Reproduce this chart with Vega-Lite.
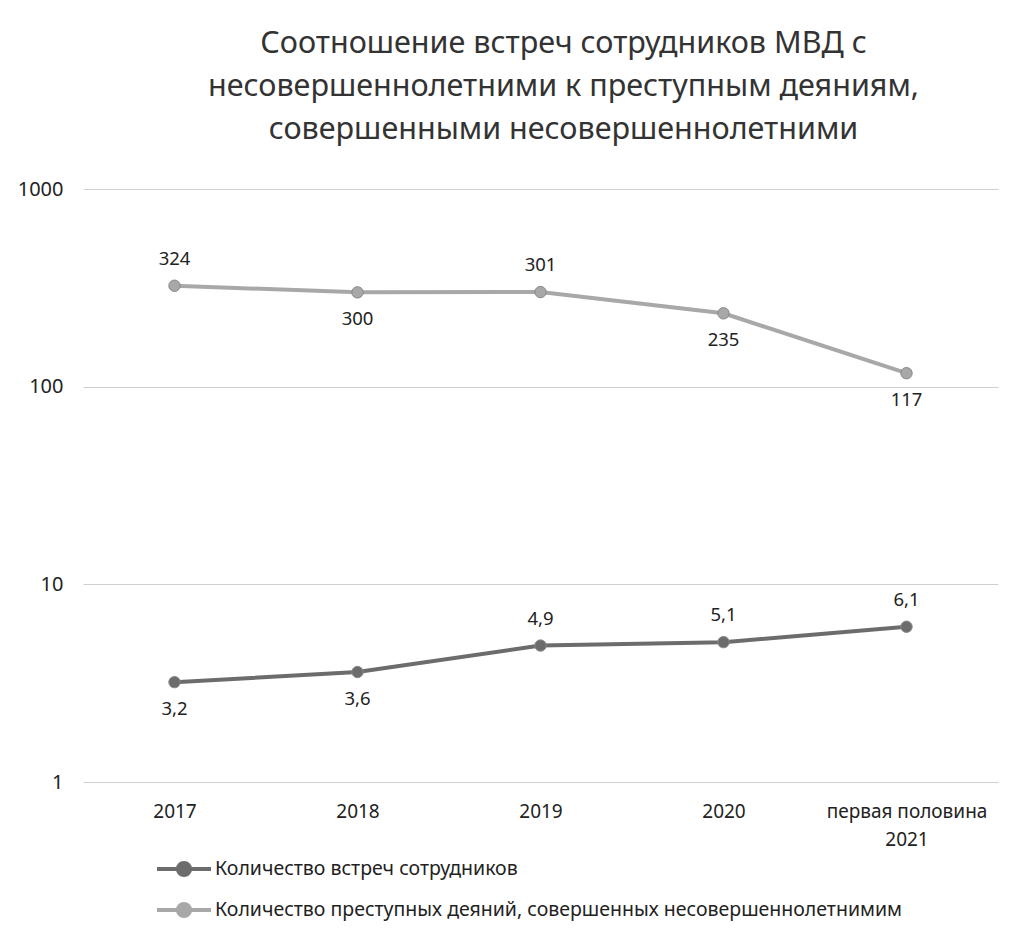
{
  "$schema": "https://vega.github.io/schema/vega-lite/v6.json",
  "width": 915,
  "height": 593,
  "autosize": {"type": "none"},
  "padding": {"left": 83, "top": 189, "right": 25, "bottom": 158},
  "background": "white",
  "config": {
    "font": "Noto Sans",
    "view": {"stroke": null}
  },
  "title": {
    "text": ["Соотношение встреч сотрудников МВД с", "несовершеннолетними к преступным деяниям,", "совершенными несовершеннолетними"],
    "fontSize": 30.5,
    "fontWeight": "normal",
    "color": "#333333",
    "lineHeight": 43,
    "anchor": "middle",
    "dx": 23,
    "offset": 34
  },
  "data": {
    "values": [
      {"year": "2017", "series": "Количество встреч сотрудников", "value": 3.2, "label": "3,2"},
      {"year": "2018", "series": "Количество встреч сотрудников", "value": 3.6, "label": "3,6"},
      {"year": "2019", "series": "Количество встреч сотрудников", "value": 4.9, "label": "4,9"},
      {"year": "2020", "series": "Количество встреч сотрудников", "value": 5.1, "label": "5,1"},
      {"year": "первая половина 2021", "series": "Количество встреч сотрудников", "value": 6.1, "label": "6,1"},
      {"year": "2017", "series": "Количество преступных деяний, совершенных несовершеннолетнимим", "value": 324, "label": "324"},
      {"year": "2018", "series": "Количество преступных деяний, совершенных несовершеннолетнимим", "value": 300, "label": "300"},
      {"year": "2019", "series": "Количество преступных деяний, совершенных несовершеннолетнимим", "value": 301, "label": "301"},
      {"year": "2020", "series": "Количество преступных деяний, совершенных несовершеннолетнимим", "value": 235, "label": "235"},
      {"year": "первая половина 2021", "series": "Количество преступных деяний, совершенных несовершеннолетнимим", "value": 117, "label": "117"}
    ]
  },
  "encoding": {
    "x": {
      "field": "year",
      "type": "ordinal",
      "sort": null,
      "scale": {"type": "point", "padding": 0.5},
      "axis": {
        "title": null,
        "labelAngle": 0,
        "labelFontSize": 19,
        "labelColor": "#222222",
        "labelPadding": 20,
        "domain": false,
        "ticks": false,
        "grid": false,
        "labelExpr": "datum.value == 'первая половина 2021' ? ['первая половина', '2021'] : datum.label",
        "labelLineHeight": 28
      }
    },
    "y": {
      "field": "value",
      "type": "quantitative",
      "scale": {"type": "log", "domain": [1, 1000], "nice": false},
      "axis": {
        "title": null,
        "values": [1, 10, 100, 1000],
        "format": "d",
        "labelFontSize": 20,
        "labelColor": "#222222",
        "labelPadding": 20,
        "domain": false,
        "ticks": false,
        "gridColor": "#d0d0d0",
        "gridWidth": 1.2
      }
    },
    "color": {
      "field": "series",
      "type": "nominal",
      "scale": {
        "domain": ["Количество встреч сотрудников", "Количество преступных деяний, совершенных несовершеннолетнимим"],
        "range": ["#6c6c6c", "#a8a8a8"]
      },
      "legend": {
        "title": null,
        "orient": "none",
        "legendX": 85.5,
        "legendY": 664.5,
        "direction": "vertical",
        "labelFontSize": 19.5,
        "labelColor": "#222222",
        "labelOffset": 15.5,
        "labelLimit": 0,
        "rowPadding": 11,
        "symbolType": "M-2,0H-0.45M0.45,0H2M0.45,0A0.45,0.45,0,1,1,-0.45,0A0.45,0.45,0,1,1,0.45,0Z",
        "symbolSize": 729,
        "symbolStrokeWidth": 4,
        "symbolOpacity": 1,
        "symbolFillColor": "#8a8a8a"
      }
    }
  },
  "layer": [
    {
      "mark": {"type": "line", "strokeWidth": 4}
    },
    {
      "mark": {"type": "point", "filled": true, "size": 130, "opacity": 1, "stroke": "#888888", "strokeWidth": 1}
    },
    {
      "transform": [
        {"filter": "(datum.series == 'Количество встреч сотрудников' && (datum.year == '2019' || datum.year == '2020' || datum.year == 'первая половина 2021')) || (datum.series != 'Количество встреч сотрудников' && (datum.year == '2017' || datum.year == '2019'))"}
      ],
      "mark": {"type": "text", "dy": -27, "fontSize": 18.5, "color": "#222222", "baseline": "middle"},
      "encoding": {"text": {"field": "label"}, "color": {"value": "#222222"}}
    },
    {
      "transform": [
        {"filter": "!((datum.series == 'Количество встреч сотрудников' && (datum.year == '2019' || datum.year == '2020' || datum.year == 'первая половина 2021')) || (datum.series != 'Количество встреч сотрудников' && (datum.year == '2017' || datum.year == '2019')))"}
      ],
      "mark": {"type": "text", "dy": 27, "fontSize": 18.5, "color": "#222222", "baseline": "middle"},
      "encoding": {"text": {"field": "label"}, "color": {"value": "#222222"}}
    }
  ]
}
